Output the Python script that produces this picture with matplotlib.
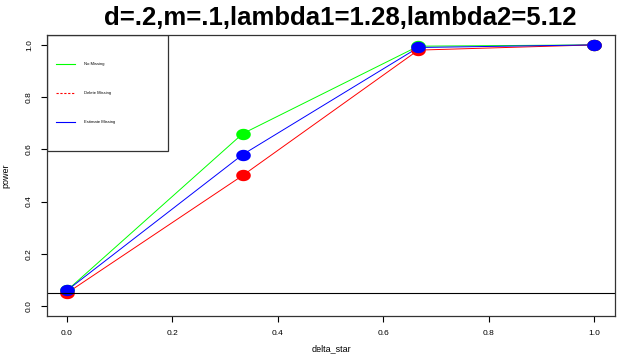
import matplotlib
matplotlib.use("Agg")
import matplotlib.pyplot as plt
import numpy as np
from matplotlib.path import Path
from matplotlib.patches import Rectangle
from matplotlib.lines import Line2D

delta_star = [0.0, 1/3, 2/3, 1.0]
no_missing = [0.06, 0.66, 0.995, 1.0]
delete_missing = [0.05, 0.50, 0.98, 1.0]
estimate_missing = [0.06, 0.58, 0.99, 1.0]
alpha_level = 0.05
x_ticks = [0.0, 0.2, 0.4, 0.6, 0.8, 1.0]
y_ticks = [0.0, 0.2, 0.4, 0.6, 0.8, 1.0]
legend_labels = ["No Missing", "Delete Missing", "Estimate Missing"]
title = "d=.2,m=.1,lambda1=1.28,lambda2=5.12"

plt.rcParams['font.family'] = ['Liberation Sans', 'DejaVu Sans']

fig = plt.figure(figsize=(6.37, 3.6), dpi=100)
ax = fig.add_axes([47/637, 1-316/360, 568/637, 281.3/360])

# elliptical marker (wider than tall)
t = np.linspace(0, 2*np.pi, 60)
ell = Path(np.column_stack([np.cos(t), 0.78*np.sin(t)]), closed=True)

series = [(no_missing, '#00FF00', '-'), (delete_missing, '#FF0000', '-'), (estimate_missing, '#0000FF', '-')]
for ys, c, ls in series:
    ax.plot(delta_star, ys, color=c, lw=0.7, ls=ls)
for ys, c, ls in series:
    ax.plot(delta_star, ys, ls='none', marker=ell, markersize=10.5, color=c, markeredgewidth=0)

ax.axhline(alpha_level, color='black', lw=0.8)

ax.set_xlim(-0.038, 1.04)
ax.set_ylim(-0.038, 1.039)
ax.set_xticks(x_ticks)
ax.set_yticks(y_ticks)
ax.set_xticklabels([f"{v:.1f}" for v in x_ticks], fontsize=6)
ax.set_yticklabels([f"{v:.1f}" for v in y_ticks], fontsize=6, rotation=90, va='center')
ax.tick_params(direction='out', length=4, width=0.8, pad=6)
for s in ax.spines.values():
    s.set_linewidth(0.9)
    s.set_color('#333333')
ax.set_xlabel("delta_star", fontsize=6.5, labelpad=5)
ax.set_ylabel("power", fontsize=6.5, labelpad=11)
fig.text(340/637, 1-18/360, title, fontsize=18.5, fontweight='bold', ha='center', va='center')

# legend box
ax.add_patch(Rectangle((0, 0.587), 0.213, 0.413, transform=ax.transAxes,
                       fill=False, edgecolor='#333333', lw=0.9, zorder=5))
leg_y = [0.896, 0.793, 0.690]
leg_styles = [('#00FF00', '-'), ('#FF0000', '--'), ('#0000FF', '-')]
for (c, ls), yy, lab in zip(leg_styles, leg_y, legend_labels):
    ax.add_line(Line2D([0.0159, 0.0493], [yy, yy], transform=ax.transAxes, color=c, ls=ls, lw=0.8,
                       dashes=(2, 1.5) if ls == '--' else (None, None)))
    ax.text(0.0651, yy, lab, transform=ax.transAxes, fontsize=3, va='center', ha='left')

fig.savefig("out.png", dpi=100)
